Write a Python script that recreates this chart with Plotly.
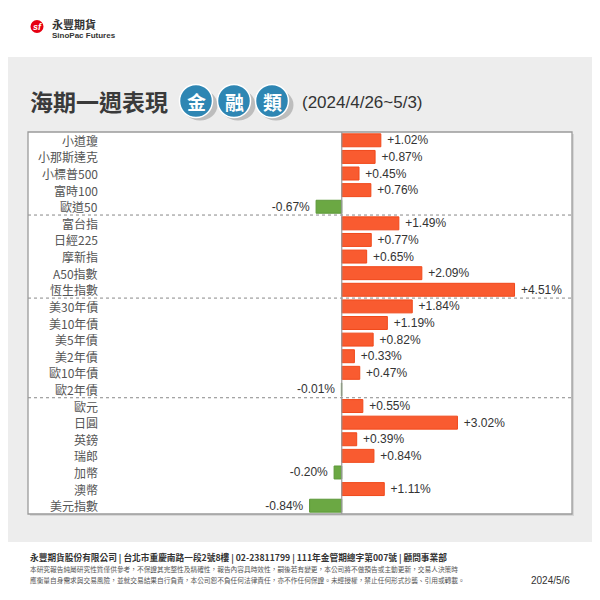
import plotly.graph_objects as go

categories = ["小道瓊", "小那斯達克", "小標普500", "富時100", "歐道50",
              "富台指", "日經225", "摩新指", "A50指數", "恆生指數",
              "美30年債", "美10年債", "美5年債", "美2年債", "歐10年債", "歐2年債",
              "歐元", "日圓", "英鎊", "瑞郎", "加幣", "澳幣", "美元指數"]
values = [1.02, 0.87, 0.45, 0.76, -0.67,
          1.49, 0.77, 0.65, 2.09, 4.51,
          1.84, 1.19, 0.82, 0.33, 0.47, -0.01,
          0.55, 3.02, 0.39, 0.84, -0.20, 1.11, -0.84]
group_breaks = [4.5, 9.5, 15.5]

FONT = "Liberation Sans, Arial, Noto Sans CJK TC, sans-serif"
CJK = "Noto Sans CJK TC, Liberation Sans, sans-serif"

n = len(categories)
ypos = list(range(n))
pos_fill, pos_line = "#F95B30", "#F0481A"
neg_fill, neg_line = "#6BA843", "#5C9838"

fills = [pos_fill if v >= 0 else neg_fill for v in values]
lines = [pos_line if v >= 0 else neg_line for v in values]
texts = [("+" if v >= 0 else "") + f"{v:.2f}%" for v in values]

fig = go.Figure()
fig.add_trace(go.Bar(
    x=values, y=ypos, orientation="h",
    marker=dict(color=fills, line=dict(color=lines, width=1)),
    width=0.78,
    text=[" " + t + " " for t in texts], textposition="outside",
    textfont=dict(size=12, color="#333333", family=FONT),
    constraintext="none", cliponaxis=False, hoverinfo="skip",
))

# category labels
for i, c in enumerate(categories):
    fig.add_annotation(x=0.1325, xref="paper", y=i, yref="y", text=c,
                       showarrow=False, xanchor="right", yanchor="middle",
                       font=dict(size=12, color="#555555", family=CJK))

def px(x):
    return (x - 28) / 544

def py(y):
    return (514 - y) / 382

shapes = []
# gray band
shapes.append(dict(type="rect", xref="paper", yref="paper", x0=-1, x1=2,
                   y0=py(542), y1=py(57),
                   fillcolor="#EDEDED", line=dict(width=0), layer="below"))
# shadow
shapes.append(dict(type="rect", xref="paper", yref="paper",
                   x0=2 / 544, x1=1 + 2 / 544, y0=-2 / 382, y1=1 - 2 / 382,
                   fillcolor="#D6D6D6", line=dict(width=0), layer="below"))
shapes.append(dict(type="rect", xref="paper", yref="paper", x0=0, x1=1, y0=0, y1=1,
                   fillcolor="white", line=dict(width=0), layer="below"))
# group separators
for b in group_breaks:
    shapes.append(dict(type="line", xref="paper", yref="y", x0=0, x1=1, y0=b, y1=b,
                       line=dict(color="#888888", width=1, dash="dot")))
# zero line
shapes.append(dict(type="line", xref="x", yref="paper", x0=0, x1=0, y0=0, y1=1,
                   line=dict(color="#999999", width=1.2)))
# box border
shapes.append(dict(type="rect", xref="paper", yref="paper", x0=0, x1=1, y0=0, y1=1,
                   line=dict(color="#9A9A9A", width=1.3)))
# logo circle
shapes.append(dict(type="circle", xref="paper", yref="paper",
                   x0=px(30.5), x1=px(43.5), y0=py(33), y1=py(20),
                   fillcolor="#E60012", line=dict(width=0)))

# blue title badges
badge_x = [196, 234, 272]
for bx in badge_x:
    r = 16.5
    shapes.append(dict(type="circle", xref="paper", yref="paper",
                       x0=px(bx - r + 3), x1=px(bx + r + 5), y0=py(101 + r + 3), y1=py(101 - r + 5),
                       fillcolor="#BDBDBD", line=dict(width=0)))
    shapes.append(dict(type="circle", xref="paper", yref="paper",
                       x0=px(bx - r), x1=px(bx + r), y0=py(101 + r), y1=py(101 - r),
                       fillcolor="#2E86B3", line=dict(color="white", width=1.5)))

anns = []
anns.append(dict(x=px(37), y=py(26.5), text="<b><i>sf</i></b>", font=dict(size=9, color="white", family=FONT)))
anns.append(dict(x=px(50), y=py(24), text="<b>永豐期貨</b>", xanchor="left",
                 font=dict(size=11, color="#333333", family=CJK)))
anns.append(dict(x=px(50), y=py(36), text="<b>SinoPac Futures</b>", xanchor="left",
                 font=dict(size=8, color="#333333", family=FONT)))
anns.append(dict(x=px(28), y=py(101), text="<b>海期一週表現</b>", xanchor="left",
                 font=dict(size=23, color="#3A3A3A", family=CJK)))
for bx, ch in zip(badge_x, ["金", "融", "類"]):
    anns.append(dict(x=px(bx), y=py(101), text="<b>" + ch + "</b>",
                     font=dict(size=19, color="white", family=CJK)))
anns.append(dict(x=px(300), y=py(102), text="(2024/4/26~5/3)", xanchor="left",
                 font=dict(size=17, color="#333333", family=FONT)))
anns.append(dict(x=px(28), y=py(557), text="<b>永豐期貨股份有限公司 | 台北市重慶南路一段2號8樓 | 02-23811799 | 111年金管期總字第007號 | 顧問事業部</b>",
                 xanchor="left", font=dict(size=8.7, color="#333333", family=CJK)))
anns.append(dict(x=px(28), y=py(569), text="本研究報告純屬研究性質僅供參考，不保證其完整性及精確性，報告內容具時效性，嗣後若有變更，本公司將不做預告或主動更新，交易人決策時",
                 xanchor="left", font=dict(size=6.7, color="#555555", family=CJK)))
anns.append(dict(x=px(28), y=py(580), text="應衡量自身需求與交易風險，並就交易結果自行負責，本公司恕不負任何法律責任，亦不作任何保證。未經授權，禁止任何形式抄襲、引用或轉載。",
                 xanchor="left", font=dict(size=6.7, color="#555555", family=CJK)))
anns.append(dict(x=px(572), y=py(580), text="2024/5/6", xanchor="right",
                 font=dict(size=10, color="#333333", family=FONT)))
for a in anns:
    a.setdefault("xanchor", "center")
    a.update(xref="paper", yref="paper", showarrow=False, yanchor="middle")
    fig.add_annotation(**a)

fig.update_layout(
    width=592, height=592,
    margin=dict(l=20, r=28, t=124, b=86),
    paper_bgcolor="white", plot_bgcolor="rgba(0,0,0,0)",
    showlegend=False, shapes=shapes, bargap=0.2,
    xaxis=dict(range=[-8.19, 6.01], showgrid=False, zeroline=False,
               showticklabels=False, fixedrange=True),
    yaxis=dict(range=[n - 0.5, -0.5], showgrid=False, zeroline=False,
               showticklabels=False, fixedrange=True),
)
fig.write_html("out.html")
